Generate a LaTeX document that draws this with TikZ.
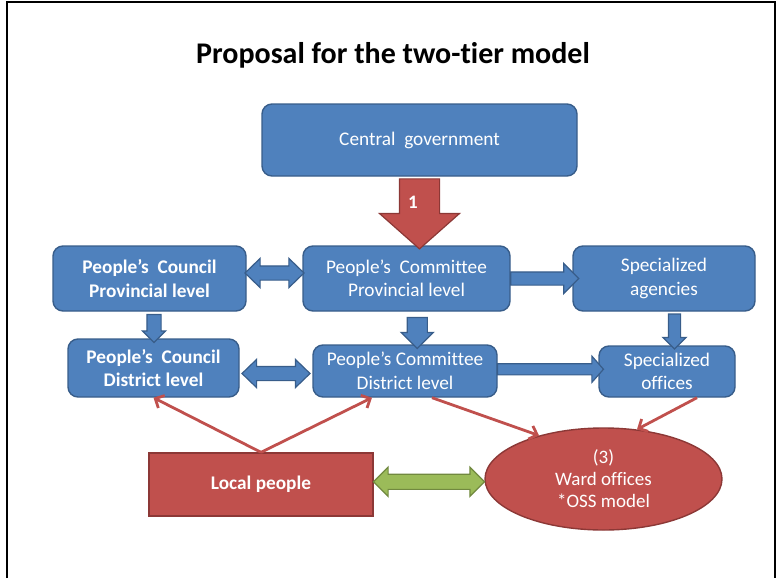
\documentclass[tikz,border=0pt]{standalone}
\usepackage{fontspec}
\setmainfont{Carlito}[Ligatures=NoCommon]
\usetikzlibrary{shapes.geometric,shapes.arrows,calc,arrows.meta}

\definecolor{boxblue}{HTML}{4F81BD}
\definecolor{boxedge}{HTML}{385D8A}
\definecolor{boxred}{HTML}{C0504D}
\definecolor{rededge}{HTML}{8C3836}
\definecolor{boxgreen}{HTML}{9BBB59}
\definecolor{greenedge}{HTML}{71893F}

\begin{document}
\begin{tikzpicture}[x=1pt, y=-1pt,
    heading/.style={font=\fontsize{30}{34}\selectfont\bfseries},
    level/.style={draw=boxedge, fill=boxblue, rounded corners=10pt, line width=1.4pt, text=white, align=center, inner sep=0pt, font=\fontsize{19.3}{23.5}\selectfont},
    council/.style={level, font=\fontsize{19.3}{23.5}\selectfont\bfseries},
    people/.style={draw=rededge, fill=boxred, line width=1.4pt, text=white, align=center, font=\fontsize{19.3}{22}\selectfont\bfseries},
    ward/.style={ellipse, draw=rededge, fill=boxred, line width=1.4pt, text=white, align=center, inner sep=0pt, font=\fontsize{19}{22}\selectfont},
    blockdown/.style={single arrow, draw=boxedge, fill=boxblue, line width=1.2pt, shape border rotate=270, single arrow tip angle=90},
    blockright/.style={single arrow, draw=boxedge, fill=boxblue, line width=1.2pt, single arrow tip angle=90},
    blockboth/.style={double arrow, draw=boxedge, fill=boxblue, line width=1.2pt, double arrow tip angle=88},
    link/.style={draw=boxred, line width=2.8pt, -{Straight Barb[length=7pt, width=14pt]}},
]
    \useasboundingbox (0,0) rectangle (778,578);
    % Frame
    \draw[line width=2pt] (7,578) -- (7,2) -- (775,2) -- (775,578);

    % Title
    \node[heading] (title) at (393,55) {Proposal for the two-tier model};

    % Levels
    \node[level, minimum width=315pt, minimum height=72pt] (gov) at (419.5,140) {Central~ government};
    \node[council, minimum width=193pt, minimum height=65pt] (pcp) at (149.5,278.5) {People’s~ Council\\Provincial level};
    \node[level, minimum width=207pt, minimum height=65pt] (pmp) at (406.5,278.5) {People’s~ Committee\\Provincial level};
    \node[level, minimum width=182pt, minimum height=65pt] (agency) at (664,278.5) {Specialized\\agencies};
    \node[council, minimum width=171pt, minimum height=58pt] (pcd) at (153.5,368) {People’s~ Council\\District level};
    \node[level, minimum width=184pt, minimum height=52pt] (pmd) at (405,371) {People’s Committee\\District level};
    \node[level, minimum width=136pt, minimum height=51pt] (office) at (667,371.5) {Specialized\\offices};

    % Bottom row
    \node[people, minimum width=224pt, minimum height=63pt] (local) at (261,484.5) {Local people};
    \node[ward, minimum width=237pt, minimum height=102pt] (wardoff) at (603.5,479) {(3)\\Ward offices\\*OSS model};

    % Block arrows
    \node[single arrow, draw=rededge, fill=boxred, line width=1.2pt, inner sep=19.5pt, shape border rotate=270,
        minimum height=70pt, single arrow head extend=20pt, single arrow tip angle=97, yshift=6pt]
        (down1) at ($(gov.south)!0.5!(pmp.north)+(6.5,0)$) {};
    \node[text=white, font=\fontsize{19}{21}\selectfont\bfseries] (one) at (413,202) {1};
    \node[blockboth, inner sep=6.5pt, minimum height=59pt, double arrow head extend=7.5pt, yshift=5.5pt]
        (pcpboth) at ($(pcp.east)!0.5!(pmp.west)$) {};
    \node[blockright, inner sep=6pt, minimum height=68pt, single arrow head extend=8.5pt]
        (pmpright) at ($(pmp.east)!0.5!(agency.west)$) {};
    \node[blockdown, inner sep=6.5pt, minimum height=28pt, single arrow head extend=4.5pt]
        (pcpdown) at ($(pcp.south)!0.5!(pcd.north)+(2.5,0)$) {};
    \node[blockdown, inner sep=9.5pt, minimum height=31pt, single arrow head extend=6pt]
        (pmpdown) at ($(pmp.south)!0.5!(pmd.north)+(11.5,0)$) {};
    \node[blockdown, inner sep=5.5pt, minimum height=35pt, single arrow head extend=5.5pt]
        (agencydown) at ($(agency.south)!0.5!(office.north)+(9,0)$) {};
    \node[blockboth, inner sep=6.5pt, minimum height=68pt, double arrow head extend=7pt, yshift=-4pt]
        (pcdboth) at ($(pcd.east)!0.5!(pmd.west)$) {};
    \node[blockright, inner sep=5pt, minimum height=106pt, single arrow head extend=7.5pt, single arrow tip angle=97, yshift=2pt]
        (pmdright) at ($(pmd.east)!0.5!(office.west)$) {};
    \node[double arrow, draw=greenedge, fill=boxgreen, line width=1.2pt, inner sep=7pt,
        minimum height=111pt, double arrow head extend=7pt, double arrow tip angle=90]
        (localboth) at ($(local.east)!0.5!(wardoff.west)$) {};

    % Links
    \draw[link] (local.north) -- (pcd.south);
    \draw[link] (local.north) -- ([xshift=-33pt]pmd.south);
    \draw[link] ([xshift=27pt]pmd.south) -- (wardoff.146);
    \draw[link] ([xshift=30pt]office.south) -- (wardoff.56);
\end{tikzpicture}
\end{document}
